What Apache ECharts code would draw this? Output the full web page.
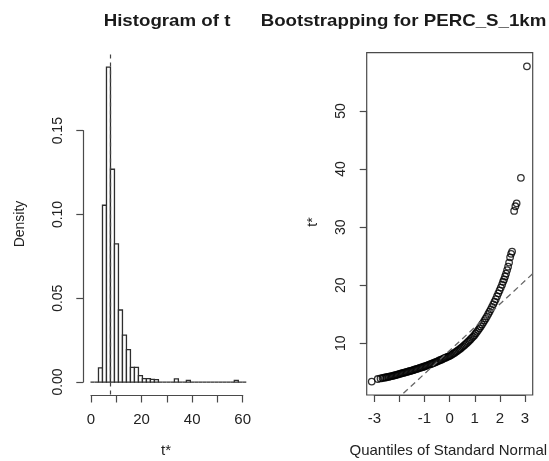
<!DOCTYPE html>
<html><head><meta charset="utf-8">
<script src="https://cdn.jsdelivr.net/npm/echarts@6/dist/echarts.min.js"></script>
<style>html,body{margin:0;padding:0;background:#fff}#c{width:549px;height:461px}</style>
</head><body><div id="c"></div>
<script>
// ---------------- data ----------------
const histBreakStart = -0.2;      // first break of the histogram
const histBinWidth = 1.58;        // width of each bin
const histDensity = [0,0,0.0085,0.1055,0.188,0.127,0.0824,0.043,0.028,0.0193,0.0088,0.0088,0.0038,0.0020,0.0020,0.0016,0.0014,0,0,0,0,0.0019,0,0,0.0010,0,0,0,0,0,0,0,0,0,0,0,0.0010,0,0];
const t0 = 7.7;                   // observed statistic (dashed line)
const histXTicks = [0,10,20,30,40,50,60];
const histXLabels = ['0','','20','','40','','60'];
const histYTicks = ['0.00','0.05','0.10','0.15'];

const qqTheoretical = [-3.09,-2.85,-2.74,-2.66,-2.6,-2.55,-2.5,-2.45,-2.4,-2.35,-2.3,-2.25,-2.2,-2.15,-2.1,-2.05,-2,-1.95,-1.9,-1.85,-1.8,-1.75,-1.7,-1.65,-1.6,-1.55,-1.5,-1.45,-1.4,-1.35,-1.3,-1.25,-1.2,-1.15,-1.1,-1.05,-1,-0.95,-0.9,-0.85,-0.8,-0.75,-0.7,-0.65,-0.6,-0.55,-0.5,-0.45,-0.4,-0.35,-0.3,-0.25,-0.2,-0.15,-0.1,-0.05,0,0.05,0.1,0.15,0.2,0.25,0.3,0.35,0.4,0.45,0.5,0.55,0.6,0.65,0.7,0.75,0.8,0.85,0.9,0.95,1,1.05,1.1,1.15,1.2,1.25,1.3,1.35,1.4,1.45,1.5,1.55,1.6,1.65,1.7,1.75,1.8,1.85,1.9,1.95,2,2.05,2.1,2.14,2.18,2.22,2.26,2.3,2.34,2.38,2.42,2.46,2.5,2.58,2.63,2.68,2.85,3.09];
const qqSample = [3.4,3.85,3.95,4.02,4.07,4.11,4.15,4.2,4.25,4.3,4.35,4.4,4.45,4.5,4.57,4.63,4.7,4.76,4.82,4.88,4.94,5.0,5.06,5.12,5.18,5.24,5.3,5.37,5.44,5.51,5.58,5.65,5.72,5.79,5.86,5.93,6.0,6.08,6.16,6.24,6.32,6.4,6.48,6.57,6.66,6.75,6.85,6.94,7.03,7.12,7.22,7.32,7.42,7.52,7.62,7.71,7.8,7.93,8.06,8.2,8.34,8.48,8.63,8.79,8.95,9.12,9.3,9.48,9.67,9.86,10.06,10.27,10.48,10.7,10.93,11.16,11.4,11.68,11.97,12.27,12.58,12.9,13.23,13.57,13.92,14.28,14.65,15.05,15.45,15.85,16.27,16.7,17.15,17.6,18.1,18.6,19.1,19.6,20.1,20.6,21.0,21.5,22.0,22.6,23.2,23.9,24.8,25.4,25.8,32.8,33.6,34.1,38.5,57.7];
const qqLineIntercept = 8.7;
const qqLineSlope = 4.0;
const qqXLabels = ['-3','','-1','0','1','2','3'];

// ---------------- chart ----------------
const FONT = '"Liberation Sans", Arial, sans-serif';
const AX = '#4a4a4a', TX = '#222';

const histBars = histDensity.map((d, i) => [histBreakStart + i * histBinWidth, histBreakStart + (i + 1) * histBinWidth, d]);
const n = Math.min(qqTheoretical.length, qqSample.length);
const qqPts = [];
for (let i = 0; i < n; i++) qqPts.push([qqTheoretical[i], qqSample[i]]);

const QQX = [-3.29, 3.32], QQY = [1.09, 60.05];
const HX = [0, 60], HY = [-0.0075, 0.1965];

const axisCommon = {
  axisLine: {show: true, lineStyle: {color: AX, width: 1.2}},
  axisTick: {show: true, inside: false, length: 7, lineStyle: {color: AX, width: 1.2}},
  splitLine: {show: false},
  axisLabel: {color: TX, fontFamily: FONT, fontSize: 15}
};

const chart = echarts.init(document.getElementById('c'), null, {renderer: 'canvas'});
chart.setOption({
  animation: false,
  backgroundColor: '#fff',
  grid: [
    {left: 91, top: 52.8, width: 151.7, height: 341.8},               // 0 hist data
    {left: 83.3, top: 130.7, width: 150, height: 251.3},              // 1 hist y axis
    {left: 91, top: 300, width: 151.7, height: 95.5},                 // 2 hist x axis
    {left: 366.7, top: 52.7, width: 166, height: 342.3, show: true, borderColor: AX, borderWidth: 1.2, backgroundColor: 'transparent'}, // 3 qq data
    {left: 374.3, top: 300, width: 150.7, height: 95},                // 4 qq x axis
    {left: 366.7, top: 111, width: 100, height: 232.3}                // 5 qq y axis
  ],
  xAxis: [
    {gridIndex: 0, type: 'value', min: HX[0], max: HX[1], show: false},
    {gridIndex: 1, type: 'value', min: 0, max: 1, show: false},
    Object.assign({gridIndex: 2, type: 'value', min: 0, max: 60, interval: 10, position: 'bottom'}, axisCommon,
      {axisLabel: Object.assign({}, axisCommon.axisLabel, {margin: 17, formatter: v => histXLabels[histXTicks.indexOf(v)] || ''})}),
    {gridIndex: 3, type: 'value', min: QQX[0], max: QQX[1], show: false},
    Object.assign({gridIndex: 4, type: 'value', min: -3, max: 3, interval: 1, position: 'bottom'}, axisCommon,
      {axisLabel: Object.assign({}, axisCommon.axisLabel, {margin: 16, formatter: v => qqXLabels[v + 3]})}),
    {gridIndex: 5, type: 'value', min: 0, max: 1, show: false}
  ],
  yAxis: [
    {gridIndex: 0, type: 'value', min: HY[0], max: HY[1], show: false},
    Object.assign({gridIndex: 1, type: 'value', min: 0, max: 0.15, interval: 0.05, position: 'left'}, axisCommon,
      {axisLabel: Object.assign({}, axisCommon.axisLabel, {fontSize: 14, rotate: 90, margin: 18, formatter: v => histYTicks[Math.round(v / 0.05)]})}),
    {gridIndex: 2, type: 'value', show: false},
    {gridIndex: 3, type: 'value', min: QQY[0], max: QQY[1], show: false},
    {gridIndex: 4, type: 'value', show: false},
    Object.assign({gridIndex: 5, type: 'value', min: 10, max: 50, interval: 10, position: 'left'}, axisCommon,
      {axisLabel: Object.assign({}, axisCommon.axisLabel, {fontSize: 14, rotate: 90, margin: 19})})
  ],
  series: [
    {
      type: 'custom', xAxisIndex: 0, yAxisIndex: 0, data: histBars, clip: false,
      renderItem: function (params, api) {
        const p0 = api.coord([api.value(0), 0]);
        const p1 = api.coord([api.value(1), api.value(2)]);
        return {type: 'rect', shape: {x: p0[0], y: p1[1], width: p1[0] - p0[0], height: p0[1] - p1[1]},
          style: {fill: '#fff', stroke: '#2e2e2e', lineWidth: 1.3}};
      },
      markLine: {silent: true, symbol: 'none', label: {show: false},
        lineStyle: {type: [4, 4], color: '#444', width: 1.2}, data: [{xAxis: t0}]}
    },
    {
      type: 'scatter', xAxisIndex: 3, yAxisIndex: 3, data: qqPts, symbol: 'circle', symbolSize: 6.5,
      itemStyle: {color: 'rgba(0,0,0,0)', borderColor: '#000', borderWidth: 1.3}, silent: true
    },
    {
      type: 'line', xAxisIndex: 3, yAxisIndex: 3, clip: true, symbol: 'none', silent: true,
      data: [[QQX[0], qqLineIntercept + qqLineSlope * QQX[0]], [QQX[1], qqLineIntercept + qqLineSlope * QQX[1]]],
      lineStyle: {type: [6, 4], color: '#666', width: 1.3}
    }
  ],
  graphic: [
    {type: 'text', x: 167, y: 21, scaleX: 1.1, style: {text: 'Histogram of t', font: 'bold 17px ' + FONT, fill: '#1a1a1a', align: 'center', verticalAlign: 'middle'}},
    {type: 'text', x: 403.5, y: 21, scaleX: 1.1, style: {text: 'Bootstrapping for PERC_S_1km', font: 'bold 17px ' + FONT, fill: '#1a1a1a', align: 'center', verticalAlign: 'middle'}},
    {type: 'text', x: 20, y: 224, rotation: Math.PI / 2, style: {text: 'Density', font: '14px ' + FONT, fill: TX, align: 'center', verticalAlign: 'middle'}},
    {type: 'text', x: 166, y: 451, style: {text: 't*', font: '15px ' + FONT, fill: TX, align: 'center', verticalAlign: 'middle'}},
    {type: 'text', x: 313, y: 222, rotation: Math.PI / 2, style: {text: 't*', font: '14px ' + FONT, fill: TX, align: 'center', verticalAlign: 'middle'}},
    {type: 'text', x: 448.3, y: 451, style: {text: 'Quantiles of Standard Normal', font: '15px ' + FONT, fill: TX, align: 'center', verticalAlign: 'middle'}}
  ]
});
</script>
</body></html>
